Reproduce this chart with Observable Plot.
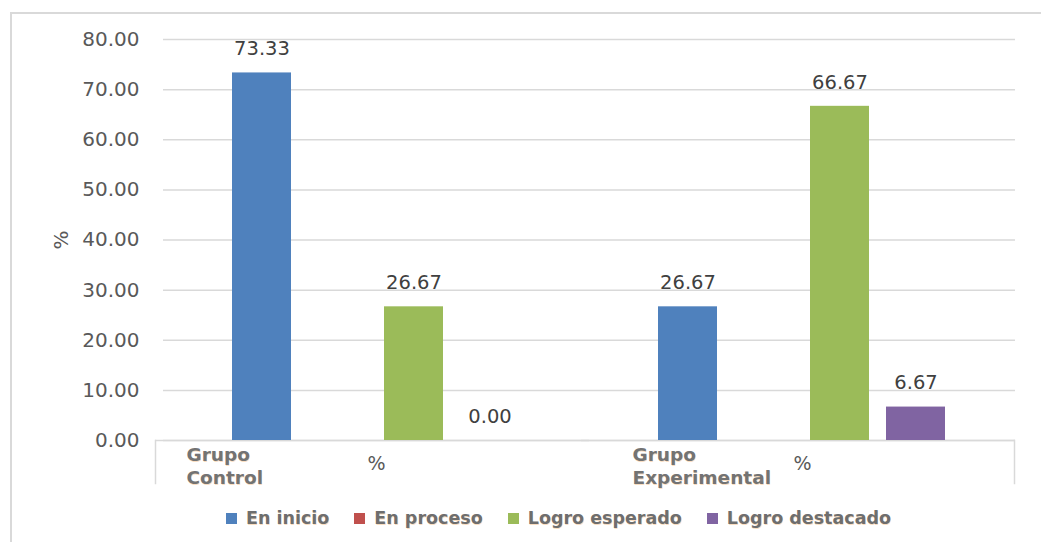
<!DOCTYPE html>
<html>
<head>
<meta charset="utf-8">
<script src="https://cdn.jsdelivr.net/npm/d3@7"></script>
<script src="https://cdn.jsdelivr.net/npm/@observablehq/plot@0.6"></script>
<style>
  html, body { margin: 0; padding: 0; background: #fff; overflow: hidden; }
  body { width: 1041px; height: 542px; position: relative; font-family: "DejaVu Sans", Verdana, sans-serif; }
  #outline { position: absolute; left: 10px; top: 12px; width: 2000px; height: 2000px;
    border-left: 2px solid #d9d9d9; border-top: 2px solid #d9d9d9; pointer-events: none; }
  #chart { position: absolute; left: 0; top: 0; }
  #chart g[font-weight="bold"] text { text-shadow: 0.6px 0.6px 0.6px rgba(240, 160, 80, 0.35); }
  #legend { position: absolute; left: 226px; top: 508px; display: flex; align-items: center;
    font-size: 17.5px; font-weight: bold; color: #6e6e6e; white-space: nowrap;
    text-shadow: 0.6px 0.6px 0.6px rgba(240, 160, 80, 0.35); }
  #legend .item { display: flex; align-items: center; margin-right: 25px; }
  #legend .swatch { width: 11px; height: 11px; margin-right: 9px; }
</style>
</head>
<body>
<div id="chart"></div>
<div id="legend"></div>
<div id="outline"></div>
<script>
// Groups on the category axis and their sub-label
const groups = ["Grupo Control", "Grupo Experimental"];
const groupLines = ["Grupo\nControl", "Grupo\nExperimental"];
const subLabel = "%";

// Achievement levels (series) and their colours
const series = ["En inicio", "En proceso", "Logro esperado", "Logro destacado"];
const seriesColors = ["#4F81BD", "#C0504D", "#9BBB59", "#8064A2"];

// Percentages per group (null = no value reported)
const enInicio = [73.33, 26.67];
const enProceso = [null, null];
const logroEsperado = [26.67, 66.67];
const logroDestacado = [0.00, 6.67];

// Value axis ticks
const yTicks = [0, 10, 20, 30, 40, 50, 60, 70, 80];

const valuesBySeries = [enInicio, enProceso, logroEsperado, logroDestacado];
const rows = [];
groups.forEach((g, gi) => {
  series.forEach((s, si) => {
    rows.push({group: g, level: s, value: valuesBySeries[si][gi]});
  });
});
const present = rows.filter(d => d.value != null);
const groupRows = groups.map((g, i) => ({group: g, text: groupLines[i]}));

const fmt = v => v.toFixed(2);
const font = "'DejaVu Sans', Verdana, sans-serif";

const chart = Plot.plot({
  width: 1041,
  height: 500,
  marginLeft: 162,
  marginRight: 26,
  marginTop: 39,
  marginBottom: 60,
  style: {fontFamily: font, fontSize: "19.5px", color: "#595959", background: "transparent"},
  fx: {domain: groups, padding: 0, axis: null},
  x: {domain: series, paddingInner: 0.22, paddingOuter: 0.9, axis: null},
  y: {domain: [0, 80], ticks: yTicks, axis: null},
  color: {domain: series, range: seriesColors},
  marks: [
    Plot.gridY(yTicks, {stroke: "#d9d9d9", strokeOpacity: 1, strokeWidth: 1.5}),
    Plot.axisY(yTicks, {
      tickSize: 0, tickPadding: 24, tickFormat: fmt, fill: "#595959", fontSize: 20,
      label: "%", labelAnchor: "center", labelArrow: "none", labelOffset: 110
    }),
    // category axis box
    Plot.ruleY([0], {stroke: "#d9d9d9", strokeWidth: 1.5, insetLeft: -8}),
    Plot.frame({anchor: "left", facet: "super", stroke: "#d9d9d9", strokeWidth: 1.5,
      insetTop: 401, insetBottom: -43, insetLeft: -8}),
    Plot.frame({anchor: "right", facet: "super", stroke: "#d9d9d9", strokeWidth: 1.5,
      insetTop: 401, insetBottom: -43, insetRight: 1}),
    Plot.barY(present, {fx: "group", x: "level", y: "value", fill: "level"}),
    Plot.text(present, {
      fx: "group", x: "level", y: "value", text: d => fmt(d.value),
      dy: -24, fill: "#404040", fontSize: 19.5
    }),
    // group labels
    Plot.text(groupRows.slice(0, 1), {
      fx: "group", text: "text", frameAnchor: "bottom-left", textAnchor: "start",
      lineAnchor: "top", lineHeight: 1.25, dx: 23, dy: 4, fontWeight: "bold",
      fontSize: 18.5, fill: "#737373", clip: false
    }),
    Plot.text(groupRows.slice(1), {
      fx: "group", text: "text", frameAnchor: "bottom-left", textAnchor: "start",
      lineAnchor: "top", lineHeight: 1.25, dx: 43, dy: 4, fontWeight: "bold",
      fontSize: 18.5, fill: "#737373", clip: false
    }),
    Plot.text(groupRows, {
      fx: "group", text: () => subLabel, frameAnchor: "bottom", dy: 29,
      fontSize: 19, fill: "#595959"
    })
  ]
});
document.getElementById("chart").appendChild(chart);

// Legend below the chart
const legend = document.getElementById("legend");
series.forEach((s, i) => {
  const item = document.createElement("div");
  item.className = "item";
  const sw = document.createElement("span");
  sw.className = "swatch";
  sw.style.background = seriesColors[i];
  const label = document.createElement("span");
  label.textContent = s;
  item.appendChild(sw);
  item.appendChild(label);
  legend.appendChild(item);
});
</script>
</body>
</html>
